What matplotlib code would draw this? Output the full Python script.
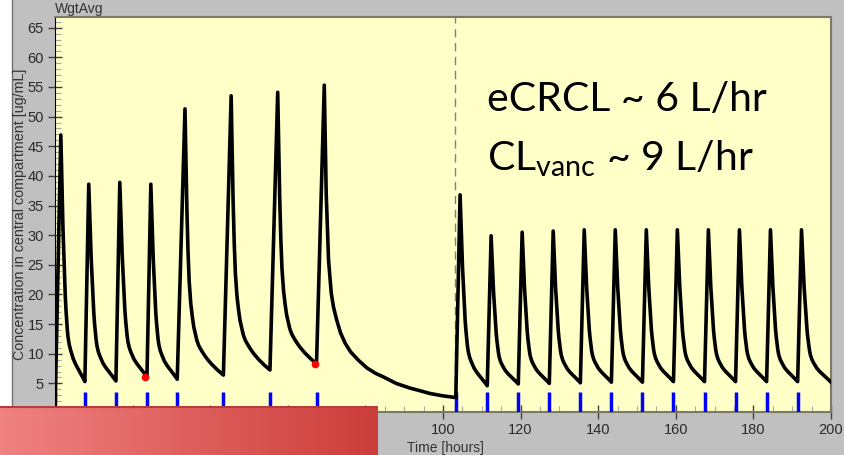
import numpy as np
import matplotlib
matplotlib.use('Agg')
import matplotlib.pyplot as plt
from matplotlib.ticker import MultipleLocator
from matplotlib.patches import Rectangle
from matplotlib.lines import Line2D

plt.rcParams['font.family'] = 'Liberation Sans'

# Dosing before the dashed line (hours, ug/mL)
left_doses = [0, 7.7, 15.7, 23.7, 31.5, 43.4, 55.4, 67.4]
left_infusion = [1.5, 1, 1, 1, 2, 2, 2, 2]
left_peaks = [46.9, 38.6, 38.9, 38.6, 51.3, 53.5, 54.1, 55.3]
left_troughs = [5.3, 5.4, 6.1, 5.7, 6.4, 7.25, 8.3]

# Long washout after the last left dose (hours after peak, conc)
washout_dt = [0.5, 1.1, 1.8, 2.4, 3.2, 4.2, 5.4, 6.8, 8.8, 11.0, 13.2, 15.2, 18.5, 22.1, 25.0, 27.2, 30.5, 33.9]
washout_conc = [37.0, 25.8, 20.2, 17.8, 15.7, 13.5, 11.75, 10.3, 8.9, 7.6, 6.7, 6.1, 5.0, 4.2, 3.7, 3.3, 2.9, 2.6]

# Dosing after the dashed line
right_doses = [103.4, 111.4, 119.4, 127.4, 135.4, 143.4, 151.4, 159.4, 167.4, 175.4, 183.4, 191.4]
right_infusion = [1] * 12
right_peaks = [36.8, 29.9, 30.5, 30.7, 30.9, 30.9, 30.9, 30.9, 30.9, 30.9, 30.9, 30.9]
right_troughs = [4.6, 4.9, 5.0, 5.1, 5.2, 5.2, 5.3, 5.3, 5.3, 5.3, 5.3, 5.2]
end_time = 200

# Decay shape read from one cycle: fraction of decay period, fraction of (peak - trough)
q8_s = [0, 0.03, 0.057, 0.09, 0.129, 0.16, 0.186, 0.215, 0.243, 0.27, 0.3, 0.35, 0.4,
        0.46, 0.514, 0.58, 0.643, 0.71, 0.771, 0.83, 0.89, 0.95, 1]
q8_f = [1, 0.87, 0.74, 0.62, 0.51, 0.42, 0.345, 0.29, 0.25, 0.21, 0.18, 0.15, 0.13,
        0.11, 0.093, 0.078, 0.065, 0.053, 0.042, 0.031, 0.02, 0.01, 0]
q12_s = [0, 0.025, 0.05, 0.08, 0.11, 0.15, 0.19, 0.23, 0.27, 0.31, 0.36, 0.41, 0.46,
         0.52, 0.58, 0.64, 0.70, 0.77, 0.84, 0.92, 1]
q12_f = [1, 0.8, 0.62, 0.46, 0.35, 0.27, 0.22, 0.18, 0.155, 0.13, 0.11, 0.097, 0.085,
         0.072, 0.06, 0.05, 0.04, 0.03, 0.02, 0.01, 0]

# Red trough samples
sample_t = [23.2, 67.1]
sample_c = [6.1, 8.3]

dashed_t = 103.0


t = [0.0]
c = [0.0]


def add_cycle(t_dose, inf, peak, t_next, trough, prof_s, prof_f):
    t_peak = t_dose + inf
    for s, f in zip(prof_s, prof_f):
        t.append(t_peak + s * (t_next - t_peak))
        c.append(trough + f * (peak - trough))


for i in range(7):
    if left_doses[i + 1] - left_doses[i] > 10:
        add_cycle(left_doses[i], left_infusion[i], left_peaks[i], left_doses[i + 1], left_troughs[i], q12_s, q12_f)
    else:
        add_cycle(left_doses[i], left_infusion[i], left_peaks[i], left_doses[i + 1], left_troughs[i], q8_s, q8_f)

t_peak = left_doses[7] + left_infusion[7]
t.append(t_peak)
c.append(left_peaks[7])
for dt, v in zip(washout_dt, washout_conc):
    t.append(t_peak + dt)
    c.append(v)

for i in range(len(right_doses)):
    t_next = right_doses[i + 1] if i + 1 < len(right_doses) else end_time
    add_cycle(right_doses[i], right_infusion[i], right_peaks[i], t_next, right_troughs[i], q8_s, q8_f)


fig = plt.figure(figsize=(8.44, 4.55), dpi=100, facecolor='#c0c0c0')
ax = fig.add_axes([55 / 844, 43 / 455, 776 / 844, 395 / 455])
ax.set_facecolor('#ffffc8')

ymin = 0.17
ax.vlines(left_doses + right_doses, ymin, 3.5, color='#0000ff', lw=2.5, zorder=3)
ax.axvline(dashed_t, color='#808080', lw=1, ls=(0, (6, 4)), zorder=2)
ax.plot(t, c, color='black', lw=2.6, solid_joinstyle='round', zorder=4)
ax.plot(sample_t, sample_c, 'o', color='#ff0000', ms=4.5, zorder=5)

ax.set_xlim(0, 200)
ax.set_ylim(ymin, 66.8)
ax.xaxis.set_major_locator(MultipleLocator(20))
ax.xaxis.set_minor_locator(MultipleLocator(5))
ax.yaxis.set_major_locator(MultipleLocator(5))
ax.yaxis.set_minor_locator(MultipleLocator(1))
ax.tick_params(which='major', direction='inout', length=10, width=1, color='#404040',
               labelsize=10.5, labelcolor='#2a2a2a', pad=3)
ax.tick_params(which='minor', direction='in', length=4, width=0.8, color='#a8a8a0')

for side in ['top', 'right', 'bottom']:
    ax.spines[side].set_color('#7a7a66')
    ax.spines[side].set_linewidth(1.5)
ax.spines['left'].set_color('black')

fig.text(55 / 844, 1 - 2 / 455, 'WgtAvg', va='top', ha='left', fontsize=10, color='#333333')
fig.text(20 / 844, 1 - 214 / 455, 'Concentration in central compartment [ug/mL]',
         rotation=90, va='center', ha='center', fontsize=10.3, color='#333333')
fig.text(445 / 844, 1 - 441 / 455, 'Time [hours]', va='top', ha='center', fontsize=10, color='#333333')

fig.text(487 / 844, 1 - 111 / 455, 'eCRCL ~ 6 L/hr', fontsize=29.5, family='Lato', va='baseline')
fig.text(487 / 844, 1 - 170 / 455, r'CL$_\mathregular{vanc}$ ~ 9 L/hr', fontsize=29.5, family='Lato', va='baseline')

# left white margin of the screenshot
fig.patches.append(Rectangle((0, 0), 11 / 844, 1, transform=fig.transFigure, color='white', zorder=0))
fig.lines.append(Line2D([11.5 / 844, 11.5 / 844], [0, 1], transform=fig.transFigure, color='#707070', lw=1))

# red slide banner across the bottom left
bar = fig.add_axes([0, 0, 378 / 844, 49 / 455])
bar.set_zorder(10)
left_col = np.array([240, 130, 130]) / 255
right_col = np.array([204, 62, 58]) / 255
g = np.linspace(0, 1, 256)[None, :, None]
grad = left_col[None, None, :] * (1 - g) + right_col[None, None, :] * g
bar.imshow(grad, aspect='auto', extent=[0, 1, 0, 1])
bar.axhline(0.985, color='#b83a3a', lw=1.5)
bar.axis('off')

fig.savefig('out.png', dpi=100, facecolor=fig.get_facecolor())
